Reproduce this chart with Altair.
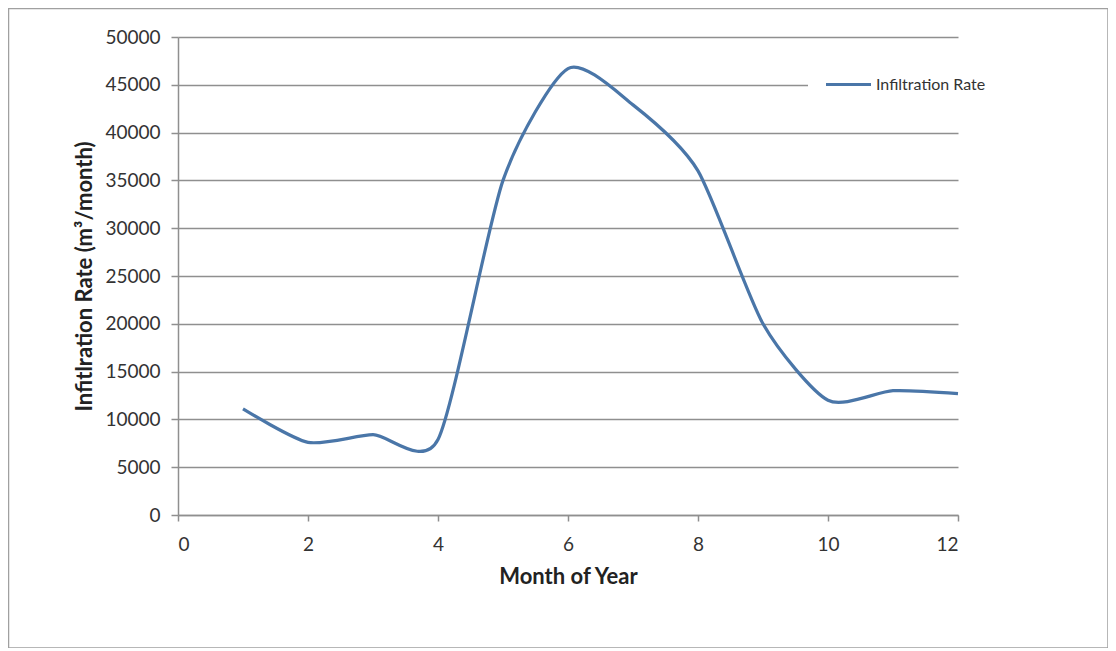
import altair as alt
import pandas as pd

months = [1, 2, 3, 4, 5, 6, 7, 8, 9, 10, 11, 12]
rates = [11100, 7600, 8400, 7900, 35000, 46700, 42900, 36000, 20000, 12000, 13000, 12700]
series = ["Infiltration Rate"] * len(months)

df = pd.DataFrame({"month": months, "rate": rates, "series": series})

FONT = "Lato"
GRID = "#8f8f8f"

border = alt.Chart(pd.DataFrame({"a": [0]})).mark_rect(
    fill=None, stroke="#a0a0a0", strokeWidth=1.5
).encode(
    x=alt.value(-169.5), x2=alt.value(930), y=alt.value(-28.5), y2=alt.value(611)
)

line = alt.Chart(df).mark_line(
    interpolate="cardinal", tension=0.3, strokeWidth=3.2
).encode(
    x=alt.X("month:Q", scale=alt.Scale(domain=[0, 12], nice=False),
            axis=alt.Axis(values=[0, 2, 4, 6, 8, 10, 12], title="Month of Year",
                          grid=False, tickSize=6, labelPadding=14,
                          titlePadding=12)),
    y=alt.Y("rate:Q", scale=alt.Scale(domain=[0, 50000], nice=False),
            axis=alt.Axis(values=list(range(0, 50001, 5000)), format="d",
                          title="Infitlration Rate (m³/month)",
                          grid=True, tickSize=7, labelPadding=11,
                          titlePadding=8)),
    color=alt.Color("series:N", scale=alt.Scale(range=["#4a76a8"]),
                    legend=alt.Legend(title=None, orient="none",
                                      legendX=630, legendY=7,
                                      symbolType="stroke", symbolSize=2025,
                                      symbolStrokeWidth=3.2,
                                      fillColor="white", padding=16,
                                      labelFontSize=16, labelColor="#333",
                                      labelFont=FONT, labelOffset=3)),
)

chart = alt.layer(border, line).properties(
    width=780, height=478,
    autosize=alt.AutoSizeParams(type="none"),
    padding={"left": 170, "top": 29, "right": 150, "bottom": 133},
).configure_view(stroke=None).configure_axis(
    domainColor=GRID, domainWidth=1.5, tickColor=GRID, tickWidth=1.5,
    gridColor=GRID, gridWidth=1.5, gridOpacity=1,
    labelFont=FONT, labelFontSize=19, labelColor="#333",
    titleFont=FONT, titleFontSize=22, titleFontWeight="bold", titleColor="#222",
)

chart.save("out.html", embed_options={"renderer": "svg", "actions": False})
